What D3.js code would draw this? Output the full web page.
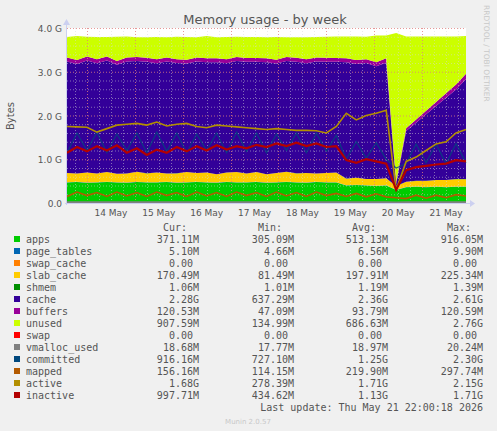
<!DOCTYPE html>
<html>
<head>
<meta charset="utf-8">
<script src="https://cdn.jsdelivr.net/npm/d3@7"></script>
<style>
  body { margin: 0; background: #f0f0f0; }
  svg { display: block; }
</style>
</head>
<body>
<svg width="497" height="431"></svg>
<script>
// samples every 5 hours from 13 May 14:00, values in GB
var apps = [0.47,0.48,0.46,0.47,0.48,0.47,0.46,0.48,0.47,0.47,0.48,0.46,0.47,0.48,0.47,0.46,0.48,0.47,0.47,0.48,0.46,0.47,0.48,0.47,0.46,0.48,0.47,0.47,
  0.40,0.41,0.40,0.39,0.40, 0.30, 0.36,0.37,0.36,0.37,0.36,0.37,0.37];
var page_tables = [0.006,0.006,0.007,0.006,0.006,0.007,0.006,0.006,0.007,0.006,0.006,0.007,0.006,0.006,0.007,0.006,0.006,0.007,0.006,0.006,0.007,0.006,0.006,0.007,0.006,0.006,0.007,0.006,
  0.007,0.007,0.007,0.007,0.007, 0.005, 0.005,0.005,0.005,0.005,0.005,0.005,0.005];
var swap_cache = [0,0,0,0,0,0,0,0,0,0,0,0,0,0,0,0,0,0,0,0,0,0,0,0,0,0,0,0, 0,0,0,0,0, 0, 0,0,0,0,0,0,0];
var slab_cache = [0.21,0.19,0.23,0.2,0.22,0.19,0.21,0.23,0.2,0.22,0.19,0.21,0.23,0.2,0.22,0.19,0.21,0.23,0.2,0.22,0.19,0.21,0.23,0.2,0.22,0.19,0.21,0.22,
  0.15,0.16,0.14,0.15,0.16, 0.08, 0.12,0.13,0.14,0.15,0.16,0.17,0.17];
var shmem = [0.001,0.001,0.001,0.001,0.001,0.001,0.001,0.001,0.001,0.001,0.001,0.001,0.001,0.001,0.001,0.001,0.001,0.001,0.001,0.001,0.001,0.001,0.001,0.001,0.001,0.001,0.001,0.001,
  0.001,0.001,0.001,0.001,0.001, 0.001, 0.001,0.001,0.001,0.001,0.001,0.001,0.001];
var cache = [2.55,2.5,2.56,2.52,2.55,2.49,2.56,2.53,2.55,2.5,2.56,2.52,2.48,2.55,2.52,2.56,2.5,2.54,2.55,2.52,2.56,2.5,2.53,2.55,2.51,2.56,2.54,2.53,
  2.66,2.6,2.65,2.58,2.64, 0.05, 1.16,1.33,1.52,1.69,1.88,2.05,2.29];
var buffers = [0.09,0.09,0.09,0.09,0.09,0.09,0.09,0.09,0.09,0.09,0.09,0.09,0.09,0.09,0.09,0.09,0.09,0.09,0.09,0.09,0.09,0.09,0.09,0.09,0.09,0.09,0.09,0.09,
  0.09,0.09,0.09,0.09,0.1, 0.05, 0.06,0.07,0.08,0.09,0.1,0.11,0.12];
var unused = [0.47,0.55,0.45,0.51,0.45,0.55,0.48,0.45,0.47,0.51,0.46,0.51,0.52,0.46,0.51,0.48,0.51,0.46,0.48,0.48,0.48,0.52,0.45,0.47,0.5,0.47,0.48,0.49,
  0.5,0.54,0.51,0.61,0.52, 3.4, 2.1,1.9,1.7,1.5,1.3,1.1,0.86];
var swap = [0,0,0,0,0,0,0,0,0,0,0,0,0,0,0,0,0,0,0,0,0,0,0,0,0,0,0,0, 0,0,0,0,0, 0, 0,0,0,0,0,0,0];

var vmalloc_used = [0.019,0.019,0.019,0.019,0.019,0.019,0.019,0.019,0.019,0.019,0.019,0.019,0.019,0.019,0.019,0.019,0.019,0.019,0.019,0.019,0.019,0.019,0.019,0.019,0.019,0.019,0.019,0.019,
  0.019,0.019,0.019,0.019,0.019, 0.018, 0.019,0.019,0.019,0.019,0.019,0.019,0.019];
var committed = [1.15,1.6,1.2,1.62,1.15,1.58,1.2,1.6,1.15,1.62,1.18,1.6,1.15,1.58,1.2,1.6,1.15,1.62,1.18,1.6,1.15,1.58,1.2,1.6,1.15,1.6,1.18,1.55,
  1.0,1.4,1.02,1.38,1.0, 0.8, 0.9,1.35,0.92,1.35,0.9,1.36,0.92];
var mapped = [0.15,0.25,0.17,0.24,0.15,0.25,0.16,0.24,0.15,0.25,0.17,0.24,0.15,0.25,0.16,0.24,0.15,0.25,0.17,0.24,0.15,0.25,0.16,0.24,0.15,0.25,0.17,0.22,
  0.15,0.22,0.14,0.21,0.14, 0.12, 0.1,0.18,0.11,0.18,0.12,0.19,0.16];
var active = [1.75,1.74,1.73,1.62,1.7,1.78,1.8,1.82,1.78,1.85,1.76,1.8,1.82,1.75,1.72,1.78,1.76,1.74,1.72,1.7,1.68,1.7,1.68,1.66,1.66,1.65,1.6,1.75,
  2.05,1.9,2.0,2.05,2.12, 0.3, 0.95,1.05,1.2,1.35,1.4,1.6,1.68];
var inactive = [1.15,1.28,1.18,1.3,1.2,1.32,1.15,1.25,1.1,1.22,1.15,1.28,1.18,1.3,1.2,1.32,1.22,1.3,1.25,1.33,1.28,1.36,1.3,1.38,1.3,1.36,1.28,1.3,
  0.98,0.92,1.0,0.95,0.9, 0.3, 0.75,0.82,0.85,0.88,0.9,0.98,0.95];

var dayLabels = ["14 May","15 May","16 May","17 May","18 May","19 May","20 May","21 May"];
var legendStats = [
  ["apps","371.11M","305.09M","513.13M","916.05M"],
  ["page_tables","5.10M","4.66M","6.56M","9.90M"],
  ["swap_cache","0.00","0.00","0.00","0.00"],
  ["slab_cache","170.49M","81.49M","197.91M","225.34M"],
  ["shmem","1.06M","1.01M","1.19M","1.39M"],
  ["cache","2.28G","637.29M","2.36G","2.61G"],
  ["buffers","120.53M","47.09M","93.79M","120.59M"],
  ["unused","907.59M","134.99M","686.63M","2.76G"],
  ["swap","0.00","0.00","0.00","0.00"],
  ["vmalloc_used","18.68M","17.77M","18.97M","20.24M"],
  ["committed","916.16M","727.10M","1.25G","2.30G"],
  ["mapped","156.16M","114.15M","219.90M","297.74M"],
  ["active","1.68G","278.39M","1.71G","2.15G"],
  ["inactive","997.71M","434.62M","1.13G","1.71G"]
];

var colors = {
  apps:"#00cc00", page_tables:"#0066b3", swap_cache:"#ff8000", slab_cache:"#ffcc00",
  shmem:"#008f00", cache:"#330099", buffers:"#990099", unused:"#ccff00", swap:"#ff0000",
  vmalloc_used:"#808080", committed:"#00487d", mapped:"#b35a00", active:"#b38f00", inactive:"#b30000"
};

var series = {apps:apps, page_tables:page_tables, swap_cache:swap_cache, slab_cache:slab_cache,
  shmem:shmem, cache:cache, buffers:buffers, unused:unused, swap:swap,
  vmalloc_used:vmalloc_used, committed:committed, mapped:mapped, active:active, inactive:inactive};
var stackKeys = ["apps","page_tables","swap_cache","slab_cache","shmem","cache","buffers","unused","swap"];
var lineKeys = ["vmalloc_used","committed","mapped","active","inactive"];

var start = new Date(2026, 4, 13, 14, 0);
var rows = apps.map(function(v, i) {
  var r = {t: new Date(start.getTime() + i * 5 * 3600e3)};
  Object.keys(series).forEach(function(k) { r[k] = series[k][i]; });
  return r;
});

var svg = d3.select("svg");
var margin = {left: 67, right: 31, top: 28, bottom: 228};
var W = 497, H = 431;

var x = d3.scaleTime()
  .domain([start, new Date(2026, 4, 21, 22, 0)])
  .range([margin.left, W - margin.right]);
var y = d3.scaleLinear().domain([0, 4]).range([203, 28]);

svg.append("rect").attr("x", margin.left).attr("y", 28)
  .attr("width", x.range()[1] - margin.left).attr("height", 175).attr("fill", "#ffffff");

var stacked = d3.stack().keys(stackKeys)(rows);
var area = d3.area()
  .x(function(d) { return x(d.data.t); })
  .y0(function(d) { return y(d[0]); })
  .y1(function(d) { return y(d[1]); });

svg.append("g").selectAll("path").data(stacked).enter().append("path")
  .attr("d", area).attr("fill", function(d) { return colors[d.key]; });

// grid
var grid = svg.append("g");
d3.range(0, 4.01, 0.2).forEach(function(v) {
  var major = Math.abs(v - Math.round(v)) < 1e-6;
  grid.append("line").attr("x1", margin.left).attr("x2", x.range()[1])
    .attr("y1", y(v) + 0.5).attr("y2", y(v) + 0.5)
    .attr("stroke", major ? "#e08080" : "#d8d8d8").attr("stroke-opacity", major ? 0.8 : 0.5)
    .attr("stroke-dasharray", "1,2");
});
d3.timeHour.every(6).range(x.domain()[0], x.domain()[1]).forEach(function(t) {
  var major = t.getHours() === 0;
  grid.append("line").attr("y1", 28).attr("y2", 203)
    .attr("x1", Math.round(x(t)) + 0.5).attr("x2", Math.round(x(t)) + 0.5)
    .attr("stroke", major ? "#e08080" : "#d8d8d8").attr("stroke-opacity", major ? 0.8 : 0.5)
    .attr("stroke-dasharray", "1,2");
});

var line = function(k) {
  return d3.line().x(function(d) { return x(d.t); }).y(function(d) { return y(d[k]); });
};
svg.append("g").selectAll("path").data(lineKeys).enter().append("path")
  .attr("d", function(k) { return line(k)(rows); })
  .attr("fill", "none")
  .attr("stroke", function(k) { return colors[k]; })
  .attr("stroke-opacity", function(k) { return k === "committed" ? 0.8 : 1; })
  .attr("stroke-width", function(k) { return k === "committed" ? 1.2 : (k === "inactive" ? 2.2 : 1.6); });

// axes lines
svg.append("line").attr("x1", margin.left - 2).attr("x2", W - 27).attr("y1", 203.5).attr("y2", 203.5).attr("stroke", "#ccd0f0");
svg.append("line").attr("x1", 66.5).attr("x2", 66.5).attr("y1", 22).attr("y2", 205).attr("stroke", "#ccd0f0");
svg.append("path").attr("d", "M470,200 L475,203.5 L470,207 Z").attr("fill", "#ccd0f0");
svg.append("path").attr("d", "M63,25 L66.5,19 L70,25 Z").attr("fill", "#ccd0f0");

var font = "DejaVu Sans, sans-serif";
[0, 1, 2, 3, 4].forEach(function(v) {
  svg.append("text").attr("x", 62).attr("y", y(v) + 4).attr("text-anchor", "end")
    .attr("font-family", font).attr("font-size", 9).attr("fill", "#555")
    .text(v.toFixed(1) + (v === 0 ? "" : " G"));
});
dayLabels.forEach(function(s, i) {
  var t = new Date(2026, 4, 14 + i, 12, 0);
  svg.append("text").attr("x", x(t)).attr("y", 216).attr("text-anchor", "middle")
    .attr("font-family", font).attr("font-size", 9).attr("fill", "#555").text(s);
});

svg.append("text").attr("x", 265).attr("y", 24).attr("text-anchor", "middle")
  .attr("font-family", font).attr("font-size", 13).attr("fill", "#555").text("Memory usage - by week");
svg.append("text").attr("transform", "translate(14,116) rotate(-90)").attr("text-anchor", "middle")
  .attr("font-family", font).attr("font-size", 10).attr("fill", "#555").text("Bytes");
svg.append("text").attr("transform", "translate(484,5) rotate(90)").attr("text-anchor", "start")
  .attr("font-family", font).attr("font-size", 7.5).attr("fill", "#c8c8c8").text("RRDTOOL / TOBI OETIKER");

// legend
var mono = "DejaVu Sans Mono, monospace";
var colX = [199, 294, 388, 483];
["Cur:", "Min:", "Avg:", "Max:"].forEach(function(h, i) {
  svg.append("text").attr("x", colX[i] - 12).attr("y", 231).attr("text-anchor", "end")
    .attr("font-family", mono).attr("font-size", 10).attr("fill", "#555").text(h);
});
legendStats.forEach(function(r, i) {
  var yy = 243 + i * 12;
  svg.append("rect").attr("x", 14).attr("y", yy - 7).attr("width", 6).attr("height", 6)
    .attr("fill", colors[r[0]]);
  svg.append("text").attr("x", 26).attr("y", yy).attr("font-family", mono).attr("font-size", 10)
    .attr("fill", "#555").text(r[0]);
  for (var c = 0; c < 4; c++) {
    var txt = r[c + 1];
    svg.append("text").attr("x", colX[c] - (/[MG]$/.test(txt) ? 0 : 6)).attr("y", yy)
      .attr("text-anchor", "end").attr("font-family", mono).attr("font-size", 10)
      .attr("fill", "#555").text(txt);
  }
});
svg.append("text").attr("x", 483).attr("y", 411).attr("text-anchor", "end")
  .attr("font-family", mono).attr("font-size", 10).attr("fill", "#555")
  .text("Last update: Thu May 21 22:00:18 2026");
svg.append("text").attr("x", 248).attr("y", 424).attr("text-anchor", "middle")
  .attr("font-family", font).attr("font-size", 7).attr("fill", "#c8c8c8").text("Munin 2.0.57");
</script>
</body>
</html>
